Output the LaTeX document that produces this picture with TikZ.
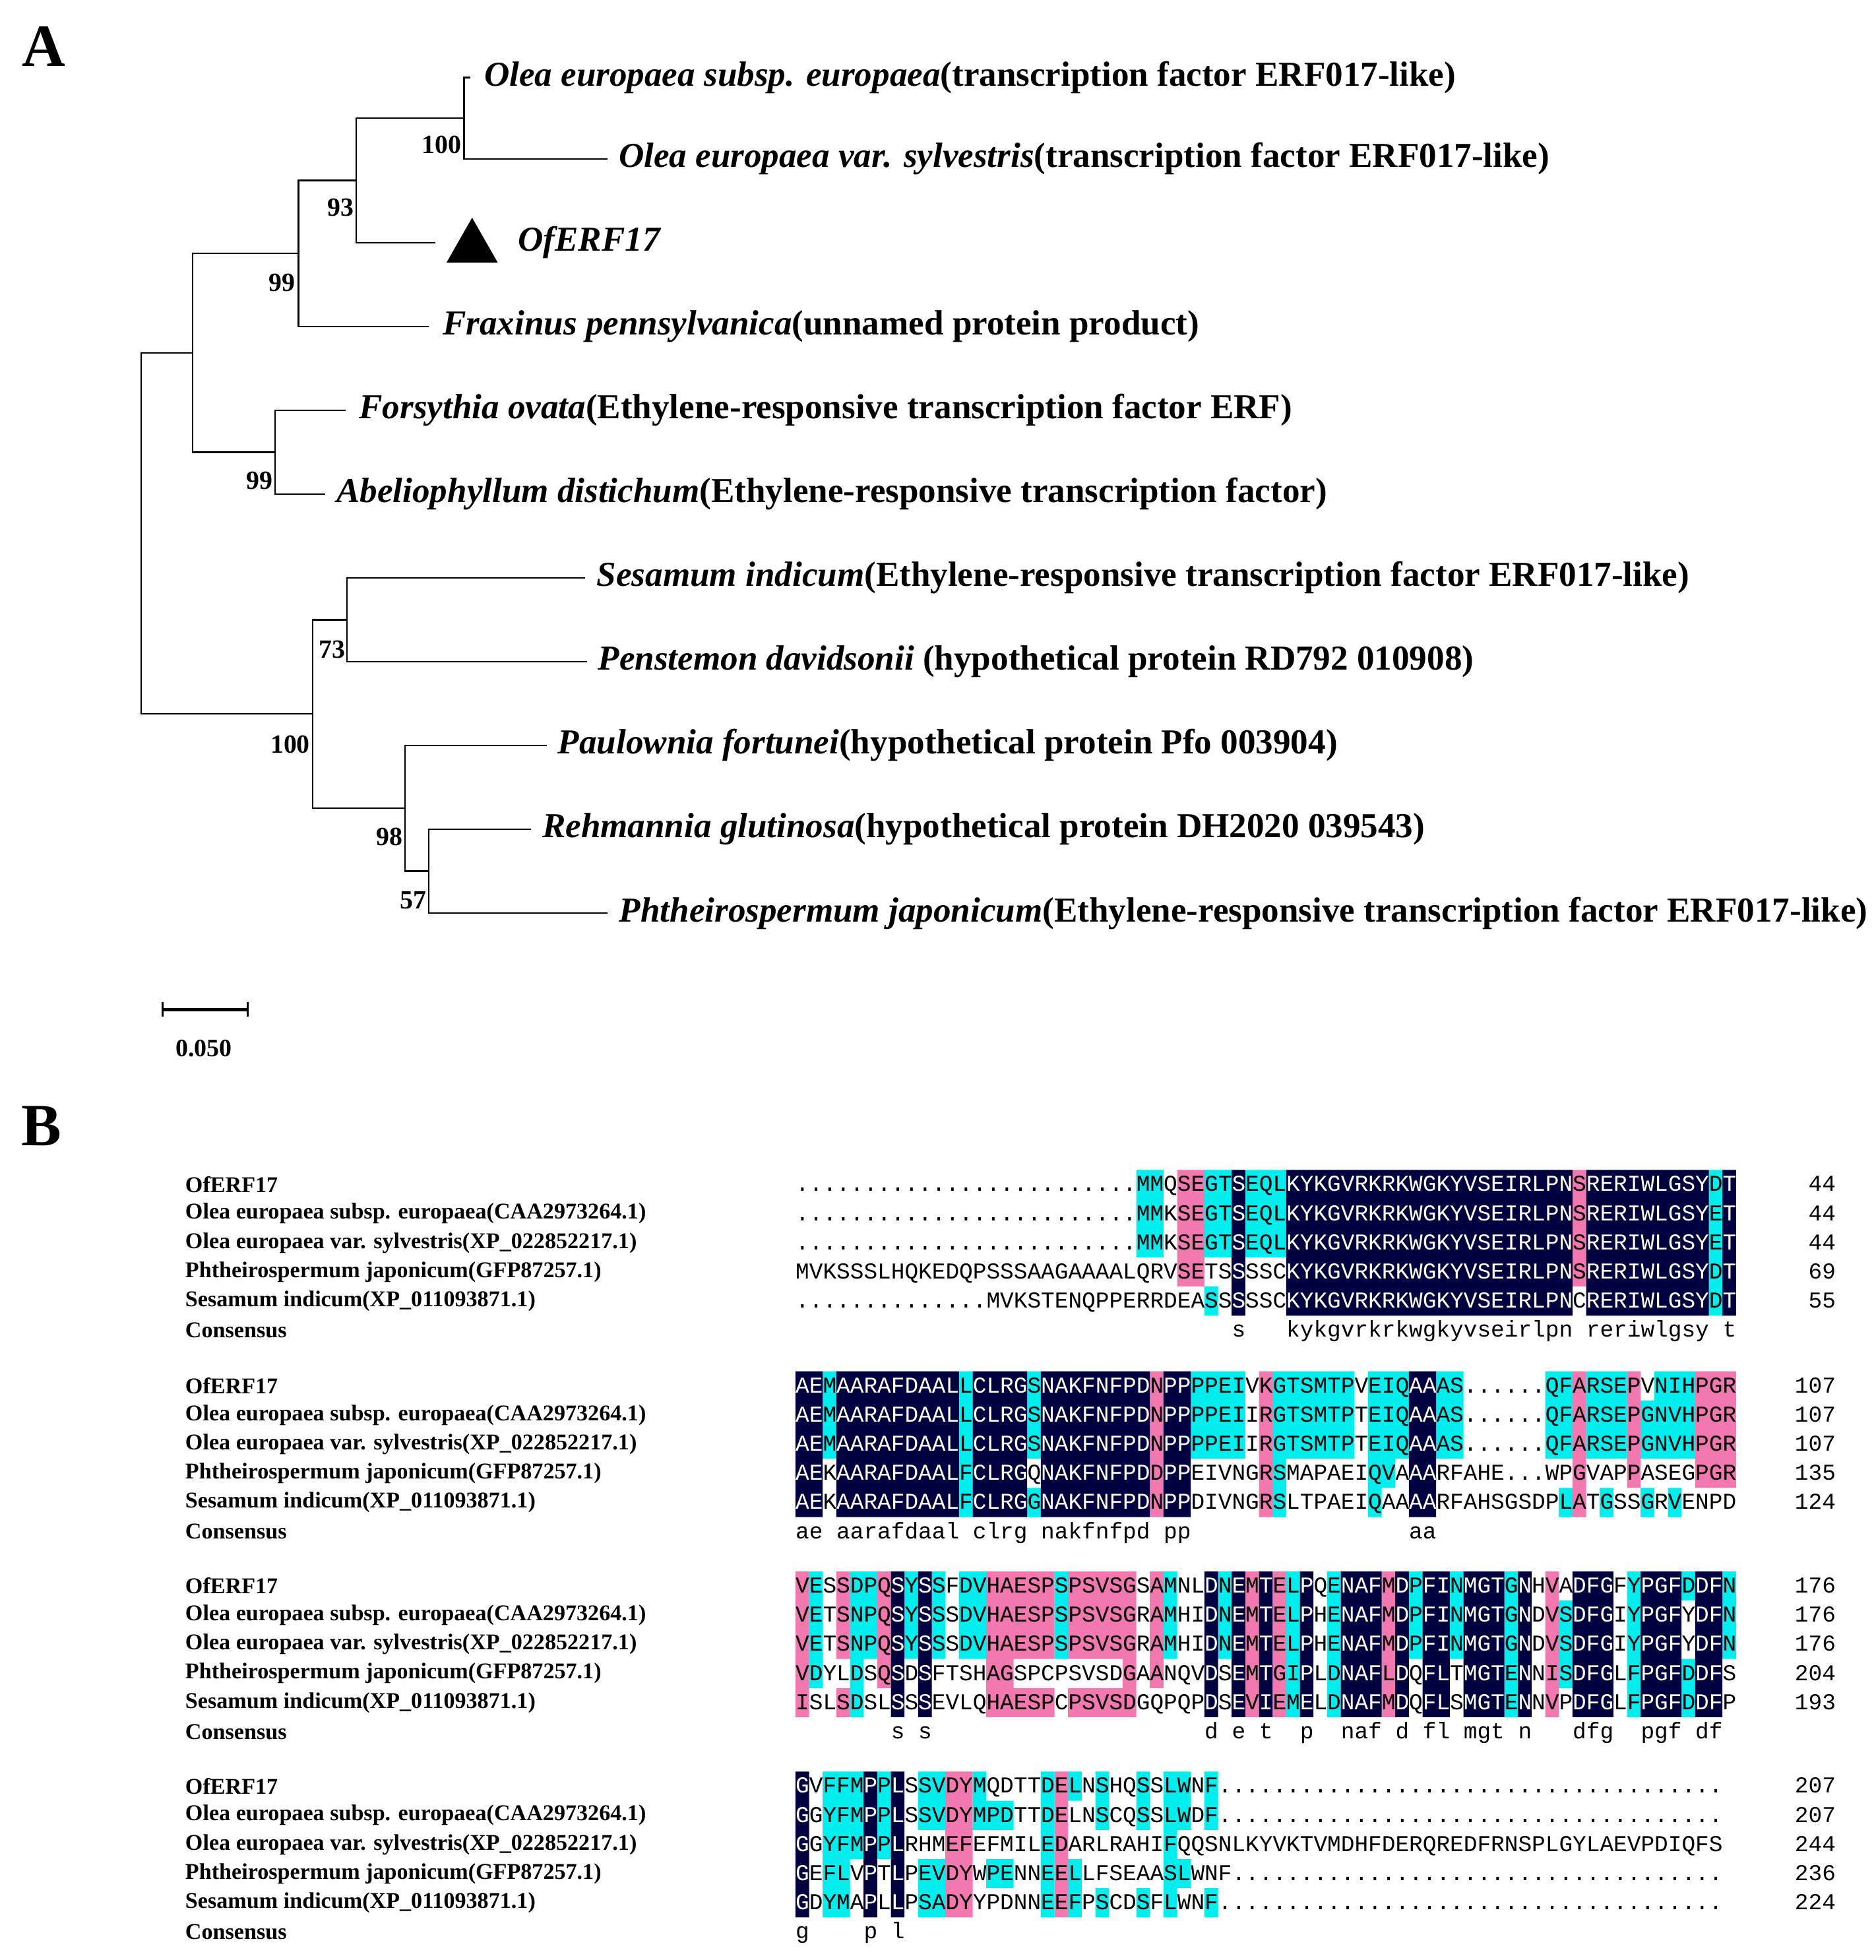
\documentclass[tikz,border=0pt]{standalone}
\usepackage{fontspec}
\setmainfont{Liberation Serif}
\newfontfamily\alm{Liberation Mono}
\ExplSyntaxOn
\cs_new:Npn \dd #1 {\prg_replicate:nn{#1}{.}}
\ExplSyntaxOff
\definecolor{alN}{RGB}{0,0,64}
\definecolor{alP}{RGB}{242,120,175}
\definecolor{alC}{RGB}{0,238,238}
\newcommand\alblock[6]{%
 \def\yz{#1}%
 \fill[alP] \foreach \ra/\rb/\ca/\cb in {#4} {({636+(\ca-1)*10.9},{\yz+(\ra-1)*23.3-11.65}) rectangle ({636+\cb*10.9},{\yz+(\rb-1)*23.3+11.65})};
 \fill[alC] \foreach \ra/\rb/\ca/\cb in {#5} {({636+(\ca-1)*10.9},{\yz+(\ra-1)*23.3-11.65}) rectangle ({636+\cb*10.9},{\yz+(\rb-1)*23.3+11.65})};
 \fill[alN] \foreach \ra/\rb/\ca/\cb in {#3} {({636+(\ca-1)*10.9},{\yz+(\ra-1)*23.3-11.65}) rectangle ({636+\cb*10.9},{\yz+(\rb-1)*23.3+11.65})};
 \foreach \r/\s in {#6} {\node[seqt,name=s#2\r] at (636,{\yz+(\r-1)*23.3+5.5}) {\s};}
 \begin{scope}
 \clip \foreach \ra/\rb/\ca/\cb in {#3} {({636+(\ca-1)*10.9},{\yz+(\ra-1)*23.3-11.65}) rectangle ({636+\cb*10.9},{\yz+(\rb-1)*23.3+11.65})};
 \foreach \r/\s in {#6} {\node[seqt,text=white] at (636,{\yz+(\r-1)*23.3+5.5}) {\s};}
 \end{scope}
 \foreach \r/\s in {1/OfERF17,2/Olea europaea subsp. europaea(CAA2973264.1),3/Olea europaea var. sylvestris(XP\_022852217.1),4/Phtheirospermum japonicum(GFP87257.1),5/Sesamum indicum(XP\_011093871.1),6/Consensus}
   {\node[alab,name=n#2\r] at (148,{\yz+(\r-1)*23.3}) {\s};}
}
\begin{document}
\begin{tikzpicture}[x=1pt,y=-1pt,
  br/.style={line width=1.2pt},
  tl/.style={anchor=west,inner sep=0,font=\fontsize{28}{32}\selectfont\bfseries},
  bs/.style={anchor=east,inner sep=0,font=\fontsize{21}{24}\selectfont\bfseries},
  seqt/.style={anchor=base west,inner sep=0,font=\fontsize{18.1667}{20}\selectfont\alm},
  cons/.style={anchor=base west,inner sep=0,font=\fontsize{18.1667}{20}\selectfont\alm},
  num/.style={anchor=base east,inner sep=0,font=\fontsize{18.1667}{20}\selectfont\alm},
  alab/.style={anchor=west,inner sep=0,font=\fontsize{18}{20}\selectfont\bfseries}]
\useasboundingbox (0,0) rectangle (1500,1567);
\node[font=\fontsize{48}{50}\selectfont\bfseries] (A) at (35,37) {A};
\node[font=\fontsize{48}{50}\selectfont\bfseries] (B) at (33,900) {B};
% tree coordinates
\coordinate (t1) at (376,62);   \coordinate (t2) at (485.6,127);
\coordinate (t3) at (348,194);  \coordinate (t4) at (343,261);
\coordinate (t5) at (276.6,328);\coordinate (t6) at (260,395);
\coordinate (t7) at (468,462);  \coordinate (t8) at (469.5,529);
\coordinate (t9) at (437,596);  \coordinate (t10) at (424.4,663);
\coordinate (t11) at (485.5,730);
\coordinate (na) at (371,94.5);  \coordinate (nb) at (285,144.25);
\coordinate (nc) at (238.7,202.6); \coordinate (nd) at (220,361.5);
\coordinate (ne) at (154,282);  \coordinate (nf) at (277.5,495.5);
\coordinate (ng) at (343,696.5); \coordinate (nh) at (324,646);
\coordinate (ni) at (250,570.8); \coordinate (nr) at (113,426);
\draw[br] (na) |- (t1); \draw[br] (na) |- (t2);
\draw[br] (nb) |- (na); \draw[br] (nb) |- (t3);
\draw[br] (nc) |- (nb); \draw[br] (nc) |- (t4);
\draw[br] (nd) |- (t5); \draw[br] (nd) |- (t6);
\draw[br] (ne) |- (nc); \draw[br] (ne) |- (nd);
\draw[br] (nf) |- (t7); \draw[br] (nf) |- (t8);
\draw[br] (ng) |- (t10); \draw[br] (ng) |- (t11);
\draw[br] (nh) |- (t9); \draw[br] (nh) |- (ng);
\draw[br] (ni) |- (nf); \draw[br] (ni) |- (nh);
\draw[br] (nr) |- (ne); \draw[br] (nr) |- (ni);
\fill (357,210) -- (398,210) -- (377.5,174) -- cycle;
\node[tl] (l1) at (387,62) {\textit{Olea europaea subsp. europaea}(transcription factor ERF017-like)};
\node[tl] (l2) at (494.6,127) {\textit{Olea europaea var. sylvestris}(transcription factor ERF017-like)};
\node[tl] (l3) at (414,194) {\textit{OfERF17}};
\node[tl] (l4) at (353.8,261) {\textit{Fraxinus pennsylvanica}(unnamed protein product)};
\node[tl] (l5) at (287,328) {\textit{Forsythia ovata}(Ethylene-responsive transcription factor ERF)};
\node[tl] (l6) at (269,395) {\textit{Abeliophyllum distichum}(Ethylene-responsive transcription factor)};
\node[tl] (l7) at (477,462) {\textit{Sesamum indicum}(Ethylene-responsive transcription factor ERF017-like)};
\node[tl] (l8) at (478,529) {\textit{Penstemon davidsonii} (hypothetical protein RD792 010908)};
\node[tl] (l9) at (446,596) {\textit{Paulownia fortunei}(hypothetical protein Pfo 003904)};
\node[tl] (l10) at (433.4,663) {\textit{Rehmannia glutinosa}(hypothetical protein DH2020 039543)};
\node[tl] (l11) at (495,730) {\textit{Phtheirospermum japonicum}(Ethylene-responsive transcription factor ERF017-like)};
\node[bs] (b1) at (369,116) {100};
\node[bs] (b2) at (283,166) {93};
\node[bs] (b3) at (236,226) {99};
\node[bs] (b4) at (218,384) {99};
\node[bs] (b5) at (276,519) {73};
\node[bs] (b6) at (248,595) {100};
\node[bs] (b7) at (322,669) {98};
\node[bs] (b8) at (341,720) {57};
% scale bar
\coordinate (sb1) at (130,807); \coordinate (sb2) at (198,807);
\draw[line width=2.6pt] (sb1) -- (sb2);
\draw[line width=1.5pt] ([yshift=-6pt]sb1) -- ([yshift=6pt]sb1);
\draw[line width=1.5pt] ([yshift=-6pt]sb2) -- ([yshift=6pt]sb2);
\node[font=\fontsize{20}{22}\selectfont\bfseries] (sbl) at (163,838) {0.050};
% ---- alignment
\alblock{947}{a}
 {1/5/33/33,1/5/37/57,1/5/59/67,1/5/69/69}
 {1/4/29/30,1/4/58/58}
 {1/3/26/27,1/3/31/32,5/5/31/31,1/3/34/36,1/5/68/68}
 {1/\dd{25}MMQSEGTSEQLKYKGVRKRKWGKYVSEIRLPNSRERIWLGSYDT,
  2/\dd{25}MMKSEGTSEQLKYKGVRKRKWGKYVSEIRLPNSRERIWLGSYET,
  3/\dd{25}MMKSEGTSEQLKYKGVRKRKWGKYVSEIRLPNSRERIWLGSYET,
  4/MVKSSSLHQKEDQPSSSAAGAAAALQRVSETSSSSCKYKGVRKRKWGKYVSEIRLPNSRERIWLGSYDT,
  5/\dd{14}MVKSTENQPPERRDEASSSSSCKYKGVRKRKWGKYVSEIRLPNCRERIWLGSYDT}
\alblock{1108}{b}
 {1/5/1/2,1/5/4/12,1/5/14/17,1/5/19/26,1/5/28/29,1/5/46/47}
 {1/5/27/27,1/5/35/35,1/5/58/58,1/4/62/62,1/4/67/69}
 {1/3/3/3,1/5/13/13,1/3/18/18,5/5/18/18,1/3/30/33,1/3/36/41,4/5/36/36,1/3/43/45,4/4/43/44,5/5/43/43,1/3/48/49,1/3/56/57,5/5/57/57,1/3/59/61,5/5/60/60,1/1/64/66,2/3/63/66,5/5/63/63,5/5/65/65}
 {1/AEMAARAFDAALLCLRGSNAKFNFPDNPPPPEIVKGTSMTPVEIQAAAS\dd{6}QFARSEPVNIHPGR,
  2/AEMAARAFDAALLCLRGSNAKFNFPDNPPPPEIIRGTSMTPTEIQAAAS\dd{6}QFARSEPGNVHPGR,
  3/AEMAARAFDAALLCLRGSNAKFNFPDNPPPPEIIRGTSMTPTEIQAAAS\dd{6}QFARSEPGNVHPGR,
  4/AEKAARAFDAALFCLRGQNAKFNFPDDPPEIVNGRSMAPAEIQVAAARFAHE\dd{3}WPGVAPPASEGPGR,
  5/AEKAARAFDAALFCLRGGNAKFNFPDNPPDIVNGRSLTPAEIQAAAARFAHSGSDPLATGSSGRVENPD}
\alblock{1268}{c}
 {1/5/8/8,1/5/10/10,1/5/31/31,1/5/33/33,1/5/35/35,1/5/38/38,1/5/41/43,1/5/45/45,1/5/47/48,1/5/50/52,1/5/54/54,1/5/58/60,1/5/63/65,1/5/67/68}
 {1/5/1/1,1/3/4/4,5/5/4/4,1/4/7/7,1/3/15/19,4/4/15/16,5/5/15/19,1/3/21/25,5/5/21/25,4/4/25/25,1/4/27/27,1/5/34/34,1/5/36/36,1/5/44/44,1/5/56/56}
 {1/4/2/2,1/5/5/5,1/3/6/6,1/3/9/9,1/3/11/11,1/3/13/14,1/3/20/20,1/3/28/28,1/3/32/32,1/5/37/37,1/5/40/40,1/3/46/46,1/3/49/49,1/5/53/53,2/4/57/57,1/5/62/62,1/1/66/66,4/5/66/66,1/3/69/69}
 {1/VESSDPQSYSSFDVHAESPSPSVSGSAMNLDNEMTELPQENAFMDPFINMGTGNHVADFGFYPGFDDFN,
  2/VETSNPQSYSSSDVHAESPSPSVSGRAMHIDNEMTELPHENAFMDPFINMGTGNDVSDFGIYPGFYDFN,
  3/VETSNPQSYSSSDVHAESPSPSVSGRAMHIDNEMTELPHENAFMDPFINMGTGNDVSDFGIYPGFYDFN,
  4/VDYLDSQSDSFTSHAGSPCPSVSDGAANQVDSEMTGIPLDNAFLDQFLTMGTENNISDFGLFPGFDDFS,
  5/ISLSDSLSSSEVLQHAESPCPSVSDGQPQPDSEVIEMELDNAFMDQFLSMGTENNVPDFGLFPGFDDFP}
\alblock{1428}{d}
 {1/5/1/1,1/5/6/6,1/5/8/8}
 {1/5/12/13,1/5/20/20}
 {1/3/3/5,4/5/3/4,1/3/7/7,1/2/10/11,4/5/10/11,1/2/14/14,2/2/15/16,4/4/15/16,1/5/19/19,1/1/21/21,4/5/21/21,1/2/23/23,5/5/23/23,1/2/26/26,5/5/26/26,1/5/28/28,1/2/29/29,4/4/29/29,1/2/31/31,5/5/31/31}
 {1/GVFFMPPLSSVDYMQDTTDELNSHQSSLWNF\dd{37},
  2/GGYFMPPLSSVDYMPDTTDELNSCQSSLWDF\dd{37},
  3/GGYFMPPLRHMEFEFMILEDARLRAHIFQQSNLKYVKTVMDHFDERQREDFRNSPLGYLAEVPDIQFS,
  4/GEFLVPTLPEVDYWPENNEELLFSEAASLWNF\dd{36},
  5/GDYMAPLLPSADYYPDNNEEFPSCDSFLWNF\dd{37}}
% consensus
\foreach \c/\t [count=\i] in {33/s,37/kykgvrkrkwgkyvseirlpn,59/reriwlgsy,69/t}
  {\node[cons,name=ca\i] at ({636+(\c-1)*10.9},{947+5*23.3+5.5}) {\t};}
\foreach \c/\t [count=\i] in {1/ae,4/aarafdaal,14/clrg,19/nakfnfpd,28/pp,46/aa}
  {\node[cons,name=cb\i] at ({636+(\c-1)*10.9},{1108+5*23.3+5.5}) {\t};}
\foreach \c/\t [count=\i] in {8/s,10/s,31/d,33/e,35/t,38/p,41/naf,45/d,47/fl,50/mgt,54/n,58/dfg,63/pgf,67/df}
  {\node[cons,name=cc\i] at ({636+(\c-1)*10.9},{1268+5*23.3+5.5}) {\t};}
\foreach \c/\t [count=\i] in {1/g,6/p,8/l}
  {\node[cons,name=cd\i] at ({636+(\c-1)*10.9},{1428+5*23.3+5.5}) {\t};}
% numbers
\foreach \y/\l [count=\i] in {947/{44,44,44,69,55},1108/{107,107,107,135,124},1268/{176,176,176,204,193},1428/{207,207,244,236,224}}
  {\foreach \v [count=\j] in \l {\node[num,name=m\i\j] at (1468,{\y+(\j-1)*23.3+5.5}) {\v};}}
\end{tikzpicture}
\end{document}
